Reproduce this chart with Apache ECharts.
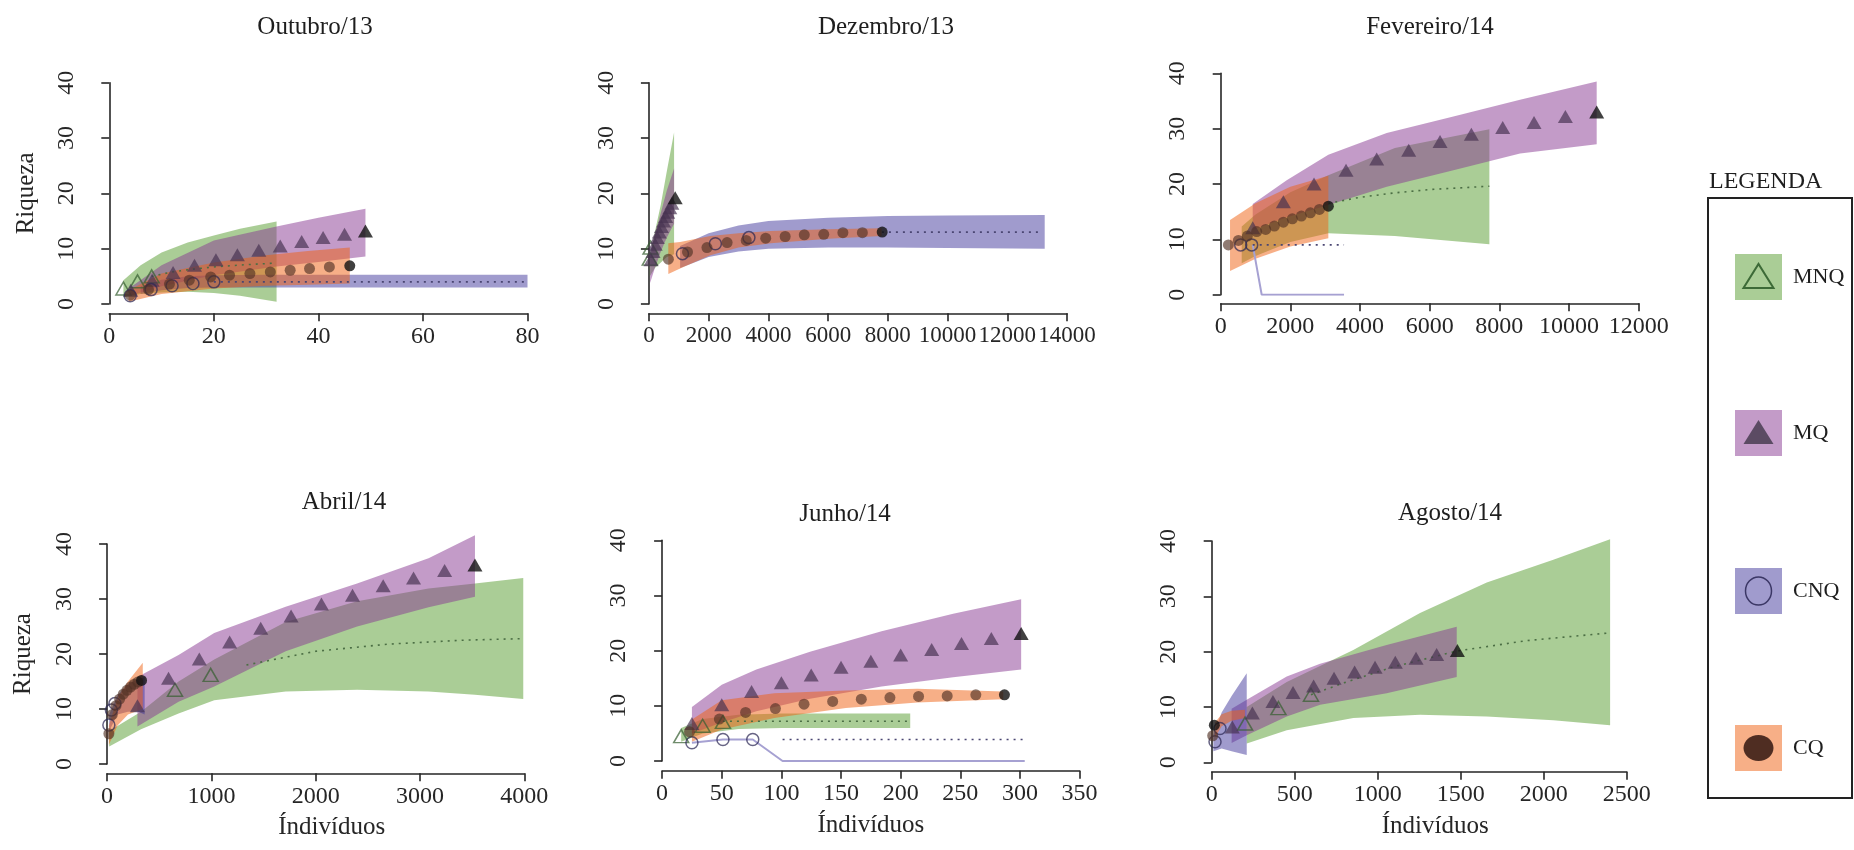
<!DOCTYPE html>
<html>
<head>
<meta charset="utf-8">
<script src="https://cdn.jsdelivr.net/npm/echarts@6/dist/echarts.min.js"></script>
<style>
  html, body { margin: 0; padding: 0; background: #fff; }
  #chart { width: 1854px; height: 850px; }
</style>
</head>
<body>
<div id="chart"></div>
<script>
// ---- dados: [x, inferior, superior] para as faixas, [x, y] para os pontos ----

// Outubro/13
var out_mnq_band = [[2.7,1.2,4.3],[6,1.8,7.0],[10,2.1,9.3],[15,2.2,11.1],[20,2.0,12.4],[25,1.5,13.6],[32,0.4,14.9]];
var out_mnq_pts  = [[2.7,2.8],[5.4,4.1],[8.1,5.0]];
var out_mnq_ext  = [[8.1,5.0],[12,5.8],[16,6.3],[20,6.7],[26,7.1],[32,7.4]];
var out_mq_band  = [[4,1.5,3.0],[10,3.2,7.0],[20,5.2,11.5],[32,6.8,14.0],[40,7.6,15.6],[49,8.6,17.2]];
var out_mq_pts   = [[4.1,2.5],[8.2,4.3],[12.2,5.7],[16.3,7.0],[20.4,8.0],[24.5,8.9],[28.6,9.7],[32.7,10.5],[36.8,11.3],[40.9,12.0],[45,12.6],[49,13.2]];
var out_cnq_band = [[6,1.8,3.2],[10,2.5,4.4],[15,2.9,5.0],[20,3.0,5.2],[30,3.0,5.3],[80,3.0,5.3]];
var out_cnq_pts  = [[4,1.5],[8,2.6],[12,3.3],[16,3.7],[20,4.0]];
var out_cnq_ext  = [[20,4.0],[80,4.0]];
var out_cq_band  = [[3.7,0.4,2.5],[10,1.8,5.5],[20,2.8,7.5],[30,3.3,8.8],[38,3.5,9.6],[46,3.7,10.2]];
var out_cq_pts   = [[4,1.6],[7.5,2.6],[11.5,3.6],[15.3,4.3],[19.4,4.9],[23,5.2],[26.9,5.5],[30.8,5.8],[34.6,6.1],[38.3,6.4],[42.1,6.7],[46,6.9]];

// Dezembro/13
var dez_mnq_band = [[30,5.0,8.0],[200,6.5,13],[400,7.5,18],[600,8.5,24],[843,9.0,31]];
var dez_mnq_pts  = [[30,8.2],[55,10.2]];
var dez_mq_band  = [[40,3.8,9.0],[200,6.5,12.5],[400,9.5,16.5],[600,12,20.5],[843,14.5,24.5]];
var dez_mq_pts   = [[70,8],[140,9.5],[210,10.8],[280,12],[350,13],[420,14],[490,15],[560,15.8],[630,16.6],[700,17.4],[770,18.2],[880,19.2]];
var dez_cnq_band = [[1045,6.5,10.5],[2000,8.5,12.8],[3000,9.5,14.2],[4000,10.0,15.0],[6000,10.2,15.6],[8000,10.2,15.9],[10000,10.1,16.0],[13250,10.0,16.1]];
var dez_cnq_pts  = [[1124,9.1],[2225,10.9],[3348,12.0]];
var dez_cnq_ext  = [[7800,13.0],[13100,13.0]];
var dez_cq_band  = [[650,5.4,11.0],[1045,6.4,11.2],[2056,8.8,12.3],[3000,10.2,12.8],[4080,11.0,13.2],[6000,11.8,13.5],[7790,12.3,13.7]];
var dez_cq_pts   = [[652,8.1],[1292,9.4],[1944,10.2],[2618,11.1],[3258,11.5],[3910,11.9],[4562,12.2],[5202,12.5],[5854,12.6],[6494,12.9],[7146,12.9],[7809,13.0]];

// Fevereiro/14
var fev_mnq_band = [[603,5.7,12.3],[1000,7.0,14.5],[2000,9.5,18.5],[3090,11.1,21.6],[5000,10.6,26.5],[7713,9.1,29.9]];
var fev_mnq_ext  = [[3091,16.5],[4000,17.6],[5000,18.4],[6000,19.0],[7713,19.6]];
var fev_mq_band  = [[919,11.7,16.4],[1895,14.0,20.7],[3090,16.2,25.3],[4766,19.5,29.2],[6680,22.5,32.2],[8593,25.5,35.2],[10794,27.2,38.5]];
var fev_mq_pts   = [[919,12.1],[1799,16.8],[2679,20.0],[3598,22.5],[4478,24.5],[5397,26.1],[6297,27.7],[7196,29.0],[8096,30.2],[8995,31.1],[9895,32.2],[10794,33.0]];
var fev_cnq_line = [[919,9.0],[1177,0],[3541,0]];
var fev_cnq_pts  = [[574,9.0],[890,9.0]];
var fev_cnq_ext  = [[919,9.0],[3541,9.0]];
var fev_cq_band  = [[268,4.3,13.5],[1000,6.5,16.5],[2000,8.7,19.5],[3090,10.2,21.5]];
var fev_cq_pts   = [[220,9.0],[507,9.8],[765,10.6],[1033,11.4],[1292,11.8],[1541,12.4],[1799,13.1],[2057,13.7],[2316,14.2],[2574,14.8],[2833,15.4],[3091,16.0]];

// Abril/14
var abr_mnq_band = [[20,3.2,6.0],[325,6.3,9.5],[685,9.2,15.0],[1027,11.6,19.0],[1712,13.2,25.8],[2397,13.5,29.6],[3082,13.2,31.9],[3527,12.6,32.8],[3990,11.8,33.8]];
var abr_mnq_pts  = [[651,13.5],[993,16.2]];
var abr_mnq_ext  = [[1336,18.0],[2000,20.5],[2700,21.8],[3400,22.5],[3990,22.8]];
var abr_mq_band  = [[291,6.8,15.8],[685,11.3,19.8],[1027,14.1,23.8],[1712,20.5,28.6],[2397,25.0,32.8],[3082,28.5,37.4],[3527,30.4,41.6]];
var abr_mq_pts   = [[291,10.6],[589,15.6],[884,19.1],[1175,22.2],[1473,24.7],[1764,26.9],[2055,29.1],[2353,30.7],[2647,32.4],[2938,33.8],[3236,35.2],[3527,36.2]];
var abr_cnq_band = [[20,6.0,9.0],[100,9.0,12.5],[200,9.5,14.5],[300,9.5,15.5],[360,9.0,15.8]];
var abr_cnq_pts  = [[17,7.1],[41,9.8],[75,11.0]];
var abr_cq_band  = [[17,3.5,7.0],[100,7.0,12.0],[200,9.0,15.0],[342,10.0,18.4]];
var abr_cq_pts   = [[17,5.5],[50,9.0],[85,10.6],[120,11.8],[155,12.7],[190,13.4],[225,14.0],[260,14.5],[295,14.9],[330,15.2]];

// Junho/14
var jun_mnq_band = [[16,3.5,6.0],[34,5.0,7.6],[64,5.8,8.4],[100,6.0,8.6],[208,6.0,8.6]];
var jun_mnq_pts  = [[16,4.5],[34,6.4],[51,7.1]];
var jun_mnq_ext  = [[51,7.2],[208,7.2]];
var jun_mq_band  = [[25,5.0,9.8],[50,7.0,13.8],[79,9.0,16.6],[124,11.3,19.8],[184,13.5,23.5],[244,15.2,26.7],[301,16.6,29.3]];
var jun_mq_pts   = [[25,6.8],[50,10.2],[75,12.6],[100,14.2],[125,15.6],[150,17.0],[175,18.1],[200,19.2],[226,20.2],[251,21.3],[276,22.2],[301,23.1]];
var jun_cnq_line = [[25,3.3],[51,3.9],[76,3.9],[101,0],[304,0]];
var jun_cnq_pts  = [[25,3.3],[51,3.9],[76,3.9]];
var jun_cnq_ext  = [[101,3.9],[304,3.9]];
var jun_cq_band  = [[25,3.5,7.5],[50,5.7,11.0],[94,7.8,12.3],[154,9.6,12.8],[214,10.6,13.1],[286,11.2,12.6]];
var jun_cq_pts   = [[23,5.3],[48,7.6],[70,8.8],[95,9.5],[119,10.3],[143,10.8],[167,11.2],[191,11.5],[215,11.7],[239,11.8],[263,12.0],[287,12.0]];

// Agosto/14
var ago_mnq_band = [[211,3.4,10.0],[452,5.8,14.5],[853,8.0,20.3],[1255,8.6,27.0],[1657,8.3,32.5],[2058,7.6,36.6],[2400,6.7,40.3]];
var ago_mnq_pts  = [[201,7.0],[402,9.8],[598,12.2]];
var ago_mnq_ext  = [[598,12.2],[800,14.4],[1100,17.3],[1476,20.1],[1900,22.0],[2400,23.4]];
var ago_mq_band  = [[120,3.5,9.7],[211,4.9,11.3],[452,8.3,15.5],[653,10.4,17.8],[1054,12.5,21.2],[1476,15.4,24.5]];
var ago_mq_pts   = [[124,6.4],[245,8.9],[369,11.0],[490,12.6],[614,13.8],[737,15.2],[861,16.3],[984,17.2],[1106,18.1],[1231,18.8],[1355,19.5],[1480,20.2]];
var ago_cnq_band = [[10,2.0,5.0],[60,2.5,9.0],[120,2.0,12.0],[211,1.3,16.1]];
var ago_cnq_pts  = [[20,3.7],[50,6.1]];
var ago_cq_band  = [[20,4.5,7.2],[60,6.5,8.7],[120,7.5,9.3],[200,8.0,9.5]];
var ago_cq_pts   = [[6,4.8],[16,6.7]];

var legendNames = ['MNQ', 'MQ', 'CNQ', 'CQ'];

// ---- aparência ----
var FONT = 'Liberation Serif';
var INK = '#262626';
var FILL = {
  mnq: 'rgba(85,155,45,0.5)',
  mq:  'rgba(135,55,145,0.5)',
  cnq: 'rgba(65,55,155,0.5)',
  cq:  'rgba(239,95,15,0.5)'
};

var panels = [
  { title: 'Outubro/13',   tx: 310,  ty: 10,  g: [109.3, 82.7, 418.2, 221.3], yo: 16.4, xo: 9.3, xmax: 80,    xint: 20,   yname: true,
    d: { mnq: {band: out_mnq_band, pts: out_mnq_pts, ext: out_mnq_ext}, mq: {band: out_mq_band, pts: out_mq_pts},
         cnq: {band: out_cnq_band, pts: out_cnq_pts, ext: out_cnq_ext}, cq: {band: out_cq_band, pts: out_cq_pts} } },
  { title: 'Dezembro/13',  tx: 881,  ty: 10,  g: [648.9, 82.7, 418.2, 221.3], yo: 15.7, xo: 9.3, xmax: 14000, xint: 2000, xfs: 23,
    d: { mnq: {band: dez_mnq_band, pts: dez_mnq_pts}, mq: {band: dez_mq_band, pts: dez_mq_pts},
         cnq: {band: dez_cnq_band, pts: dez_cnq_pts, ext: dez_cnq_ext}, cq: {band: dez_cq_band, pts: dez_cq_pts} } },
  { title: 'Fevereiro/14', tx: 1425, ty: 10,  g: [1220.7, 73.3, 418, 221.4],  yo: 17.4, xo: 8.6, xmax: 12000, xint: 2000,
    d: { mnq: {band: fev_mnq_band, ext: fev_mnq_ext}, mq: {band: fev_mq_band, pts: fev_mq_pts},
         cnq: {line: fev_cnq_line, pts: fev_cnq_pts, ext: fev_cnq_ext}, cq: {band: fev_cq_band, pts: fev_cq_pts} } },
  { title: 'Abril/14',     tx: 339,  ty: 485, g: [107.1, 544, 417.2, 220],    yo: 16.7, xo: 9.3, xmax: 4000,  xint: 1000, yname: true, xname: true, npad: 32,
    d: { mnq: {band: abr_mnq_band, pts: abr_mnq_pts, ext: abr_mnq_ext}, mq: {band: abr_mq_band, pts: abr_mq_pts},
         cnq: {band: abr_cnq_band, pts: abr_cnq_pts}, cq: {band: abr_cq_band, pts: abr_cq_pts} } },
  { title: 'Junho/14',     tx: 840,  ty: 497, g: [662.1, 540.3, 417.5, 220.7], yo: 17.1, xo: 9.7, xmax: 350,  xint: 50,   xname: true, npad: 0,
    d: { mnq: {band: jun_mnq_band, pts: jun_mnq_pts, ext: jun_mnq_ext}, mq: {band: jun_mq_band, pts: jun_mq_pts},
         cnq: {line: jun_cnq_line, pts: jun_cnq_pts, ext: jun_cnq_ext}, cq: {band: jun_cq_band, pts: jun_cq_pts} } },
  { title: 'Agosto/14',    tx: 1445, ty: 496, g: [1211.7, 541, 415, 221.3],   yo: 16.7, xo: 9.4, xmax: 2500,  xint: 500,  xname: true, npad: 32,
    d: { mnq: {band: ago_mnq_band, pts: ago_mnq_pts, ext: ago_mnq_ext}, mq: {band: ago_mq_band, pts: ago_mq_pts},
         cnq: {band: ago_cnq_band, pts: ago_cnq_pts}, cq: {band: ago_cq_band, pts: ago_cq_pts} } }
];

// marcadores de cada grupo
var MARK = {
  mnq: { symbol: 'triangle', size: [15, 13], color: 'rgba(0,0,0,0)', border: 'rgba(55,95,50,0.9)', bw: 1.5 },
  mq:  { symbol: 'triangle', size: [15, 13], color: 'rgba(70,50,80,0.85)', border: 'rgba(0,0,0,0)', bw: 0 },
  cnq: { symbol: 'circle',   size: 12,       color: 'rgba(0,0,0,0)', border: 'rgba(45,40,85,0.9)', bw: 1.5 },
  cq:  { symbol: 'circle',   size: 11,       color: 'rgba(80,48,36,0.8)', border: 'rgba(0,0,0,0)', bw: 0 }
};
var EXTCOL = { mnq: '#4b6e44', mq: '#555', cnq: '#4a4672', cq: '#5a4035' };

function bandSeries(rows, color, i) {
  return {
    type: 'custom', xAxisIndex: i, yAxisIndex: i, silent: true, z: 1,
    data: rows, encode: { x: 0, y: [1, 2] },
    renderItem: function (params, api) {
      if (params.dataIndex !== 0) return null;
      var up = rows.map(function (r) { return api.coord([r[0], r[2]]); });
      var lo = rows.map(function (r) { return api.coord([r[0], r[1]]); }).reverse();
      return { type: 'polygon', shape: { points: up.concat(lo) }, style: { fill: color } };
    }
  };
}

function plain(v) { return String(v); }

var grids = [], xAxes = [], yAxes = [], titles = [], series = [];
var groups = ['mnq', 'mq', 'cnq', 'cq'];

panels.forEach(function (p, i) {
  grids.push({ left: p.g[0], top: p.g[1], width: p.g[2], height: p.g[3] });
  titles.push({ text: p.title, left: p.tx, top: p.ty, textAlign: 'center',
    textStyle: { fontFamily: FONT, fontSize: 25, fontWeight: 'normal', color: '#1e1e1e' } });
  var lineStyle = { color: INK, width: 1.6 };
  xAxes.push({
    gridIndex: i, type: 'value', min: 0, max: p.xmax, interval: p.xint, offset: p.xo,
    axisLine: { show: true, onZero: false, lineStyle: lineStyle },
    axisTick: { show: true, length: 8, lineStyle: lineStyle },
    splitLine: { show: false },
    axisLabel: { fontFamily: FONT, fontSize: p.xfs || 24, color: INK, margin: 11, formatter: plain,
                 showMinLabel: true, showMaxLabel: true, hideOverlap: false },
    name: p.xname ? 'Índivíduos' : '', nameLocation: 'middle', nameGap: 42,
    nameTextStyle: { fontFamily: FONT, fontSize: 25, color: INK, padding: [0, 0, 0, p.npad || 0] }
  });
  yAxes.push({
    gridIndex: i, type: 'value', min: 0, max: 40, interval: 10, offset: p.yo,
    axisLine: { show: true, lineStyle: lineStyle },
    axisTick: { show: true, length: 8, lineStyle: lineStyle },
    splitLine: { show: false },
    axisLabel: { fontFamily: FONT, fontSize: 24, color: INK, rotate: 90, margin: 14, formatter: plain },
    name: p.yname ? 'Riqueza' : '', nameLocation: 'middle', nameRotate: 90, nameGap: 54,
    nameTextStyle: { fontFamily: FONT, fontSize: 25, color: INK }
  });

  // faixas de confiança
  groups.forEach(function (k) {
    var g = p.d[k];
    if (g && g.band) series.push(bandSeries(g.band, FILL[k], i));
  });
  // linhas (faixa colapsada e extrapolação pontilhada)
  groups.forEach(function (k) {
    var g = p.d[k];
    if (!g) return;
    if (g.line) series.push({ type: 'line', xAxisIndex: i, yAxisIndex: i, data: g.line, showSymbol: false,
      silent: true, z: 2, lineStyle: { color: '#a6a1d2', width: 2 } });
    if (g.ext) series.push({ type: 'line', xAxisIndex: i, yAxisIndex: i, data: g.ext, showSymbol: false,
      silent: true, z: 2, lineStyle: { color: EXTCOL[k], width: 1.6, type: [2, 5] } });
  });
  // pontos
  groups.forEach(function (k) {
    var g = p.d[k];
    if (!g || !g.pts) return;
    var m = MARK[k], n = g.pts.length;
    var filled = (k === 'mq' || k === 'cq');
    series.push({
      type: 'scatter', xAxisIndex: i, yAxisIndex: i, data: g.pts, silent: true, z: 3,
      symbol: m.symbol, symbolSize: m.size,
      itemStyle: {
        color: function (q) { return (filled && q.dataIndex === n - 1) ? '#111' : m.color; },
        borderColor: m.border, borderWidth: m.bw
      }
    });
  });
});

// legenda à direita
var legendY = [277, 433, 591, 748];
var legendKids = [
  { type: 'rect', shape: { x: 1708, y: 198, width: 144, height: 600 }, style: { fill: 'none', stroke: '#222', lineWidth: 2 } },
  { type: 'text', x: 1709, y: 182, style: { text: 'LEGENDA', font: '24px "Liberation Serif"', fill: '#1e1e1e', verticalAlign: 'middle', align: 'left' } }
];
legendNames.forEach(function (name, j) {
  var cy = legendY[j], cx = 1758.5, k = groups[j];
  legendKids.push({ type: 'rect', shape: { x: 1735, y: cy - 23, width: 47, height: 46 }, style: { fill: FILL[k] } });
  if (j === 0) legendKids.push({ type: 'polygon', shape: { points: [[cx - 15, cy + 11], [cx + 15, cy + 11], [cx, cy - 13]] }, style: { fill: 'none', stroke: '#3d6a37', lineWidth: 2 } });
  if (j === 1) legendKids.push({ type: 'polygon', shape: { points: [[cx - 15, cy + 11], [cx + 15, cy + 11], [cx, cy - 13]] }, style: { fill: '#5b4b63' } });
  if (j === 2) legendKids.push({ type: 'ellipse', shape: { cx: cx, cy: cy, rx: 13, ry: 14 }, style: { fill: 'none', stroke: '#3b3765', lineWidth: 1.5 } });
  if (j === 3) legendKids.push({ type: 'ellipse', shape: { cx: cx, cy: cy, rx: 15, ry: 13 }, style: { fill: '#4f2d22' } });
  legendKids.push({ type: 'text', x: 1793, y: cy, style: { text: name, font: '22px "Liberation Serif"', fill: '#1e1e1e', verticalAlign: 'middle', align: 'left' } });
});

var chart = echarts.init(document.getElementById('chart'));
chart.setOption({
  animation: false,
  backgroundColor: '#fff',
  title: titles,
  grid: grids,
  xAxis: xAxes,
  yAxis: yAxes,
  series: series,
  graphic: [{ type: 'group', children: legendKids }]
});
</script>
</body>
</html>
